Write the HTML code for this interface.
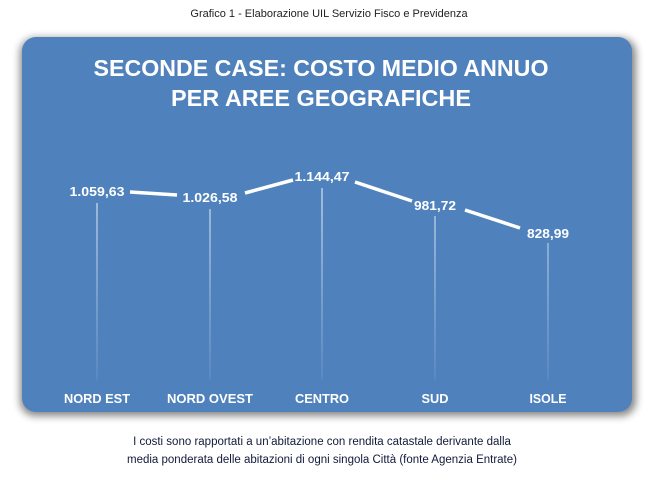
<!DOCTYPE html>
<html><head><meta charset="utf-8"><style>
body{margin:0;background:#fff;width:658px;height:477px;overflow:hidden;font-family:"Liberation Sans",sans-serif}
</style></head><body>
<svg width="658" height="477" xmlns="http://www.w3.org/2000/svg">
<defs>
<filter id="sh" x="-10%" y="-10%" width="120%" height="120%"><feGaussianBlur stdDeviation="4"/></filter>
<linearGradient id="vl" gradientUnits="userSpaceOnUse" x1="0" y1="200" x2="0" y2="385"><stop offset="0" stop-color="#fff" stop-opacity="0.9"/><stop offset="1" stop-color="#fff" stop-opacity="0.1"/></linearGradient>
</defs>
<text x="329" y="17" text-anchor="middle" font-size="11" fill="#222" font-family="Liberation Sans">Grafico 1 - Elaborazione UIL Servizio Fisco e Previdenza</text>
<rect x="20" y="38" width="616" height="378" rx="15" fill="#555" opacity="0.7" filter="url(#sh)"/>
<rect x="22" y="37" width="610" height="375" rx="14" fill="#4f81bd"/>
<g font-family="Liberation Sans" font-weight="bold" fill="#fff" text-anchor="middle">
<text x="321" y="76" font-size="23" textLength="455" lengthAdjust="spacingAndGlyphs">SECONDE CASE: COSTO MEDIO ANNUO</text>
<text x="321" y="106" font-size="23" textLength="300" lengthAdjust="spacingAndGlyphs">PER AREE GEOGRAFICHE</text>
</g>
<g stroke="url(#vl)" stroke-width="1">
<line x1="97" y1="203" x2="97" y2="380"/>
<line x1="210" y1="209" x2="210" y2="380"/>
<line x1="322" y1="188" x2="322" y2="380"/>
<line x1="435" y1="216" x2="435" y2="380"/>
<line x1="548" y1="243" x2="548" y2="380"/>
</g>
<g stroke="#fff" stroke-width="3.5" stroke-linecap="butt">
<line x1="130" y1="192" x2="177" y2="195"/>
<line x1="245" y1="193" x2="293" y2="180"/>
<line x1="355" y1="182" x2="412" y2="201"/>
<line x1="465" y1="210" x2="520" y2="228"/>
</g>
<g font-family="Liberation Sans" font-weight="bold" fill="#fff" text-anchor="middle" font-size="13">
<text x="97" y="196" textLength="55" lengthAdjust="spacingAndGlyphs">1.059,63</text>
<text x="210" y="202" textLength="55" lengthAdjust="spacingAndGlyphs">1.026,58</text>
<text x="322" y="181" textLength="55" lengthAdjust="spacingAndGlyphs">1.144,47</text>
<text x="435" y="210" textLength="42" lengthAdjust="spacingAndGlyphs">981,72</text>
<text x="548" y="238" textLength="42" lengthAdjust="spacingAndGlyphs">828,99</text>
<text x="97" y="403" textLength="66" lengthAdjust="spacingAndGlyphs">NORD EST</text>
<text x="210" y="403" textLength="86" lengthAdjust="spacingAndGlyphs">NORD OVEST</text>
<text x="322" y="403" textLength="54" lengthAdjust="spacingAndGlyphs">CENTRO</text>
<text x="435" y="403" textLength="27" lengthAdjust="spacingAndGlyphs">SUD</text>
<text x="548" y="403" textLength="37" lengthAdjust="spacingAndGlyphs">ISOLE</text>
</g>
<g font-family="Liberation Sans" fill="#111a3a" text-anchor="middle" font-size="11.5">
<text x="322" y="445">I costi sono rapportati a un’abitazione con rendita catastale derivante dalla</text>
<text x="322" y="463">media ponderata delle abitazioni di ogni singola Città (fonte Agenzia Entrate)</text>
</g>
</svg>
</body></html>
